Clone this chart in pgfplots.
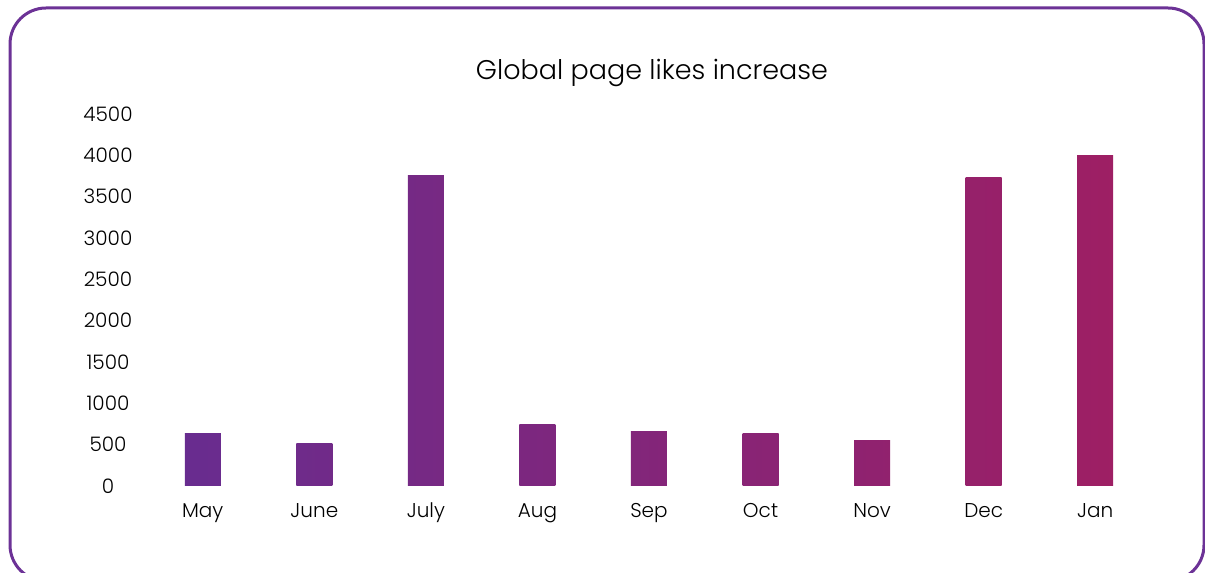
\documentclass[border=0pt]{standalone}
\usepackage{pgfplots}
\pgfplotsset{compat=1.18}
\usepackage{fontspec}
\setmainfont{Poppins}[UprightFont=* Light]
\definecolor{gA}{RGB}{102,45,145}
\definecolor{gB}{RGB}{160,30,98}
\definecolor{framec}{RGB}{108,50,150}
\pgfplotsset{gbar/.style 2 args={ybar, bar width=18pt, bar shift=0pt, draw=none,
    left color=gB!#1!gA, right color=gB!#2!gA}}
\begin{document}
\begin{tikzpicture}
\useasboundingbox (0,0) rectangle (602.5pt,286.5pt);
\draw[framec, line width=1.5pt, rounded corners=18pt] (5pt,-4pt) rectangle (602pt,282.5pt);
\begin{axis}[
    at={(73.5pt,43.5pt)}, anchor=south west,
    scale only axis, width=502pt, height=186pt,
    xmin=-0.5, xmax=8.5, ymin=0, ymax=4500,
    xtick={0,...,8},
    xticklabels={May,June,July,Aug,Sep,Oct,Nov,Dec,Jan},
    ytick={0,500,...,4500},
    major tick length=0pt,
    axis line style={draw=none},
    /pgf/number format/1000 sep={},
    /pgf/number format/assume math mode=true,
    tick label style={font=\fontsize{10}{12}\selectfont, text=black},
    yticklabel style={anchor=center, xshift=-19.5pt},
    xticklabel style={anchor=base, yshift=-16pt},
    title={Global page likes increase},
    title style={font=\fontsize{13.5}{16}\selectfont, anchor=base, at={(0.5,1)}, yshift=11pt, xshift=1.5pt},
]
\addplot[gbar={3.8}{7.4}] coordinates {(0,640)};
\addplot[gbar={14.9}{18.5}] coordinates {(1,520)};
\addplot[gbar={26}{29.6}] coordinates {(2,3760)};
\addplot[gbar={37.1}{40.7}] coordinates {(3,740)};
\addplot[gbar={48.2}{51.8}] coordinates {(4,665)};
\addplot[gbar={59.3}{62.9}] coordinates {(5,630)};
\addplot[gbar={70.4}{74}] coordinates {(6,545)};
\addplot[gbar={81.5}{85.1}] coordinates {(7,3730)};
\addplot[gbar={92.6}{96.2}] coordinates {(8,4000)};
\end{axis}
\end{tikzpicture}
\end{document}
